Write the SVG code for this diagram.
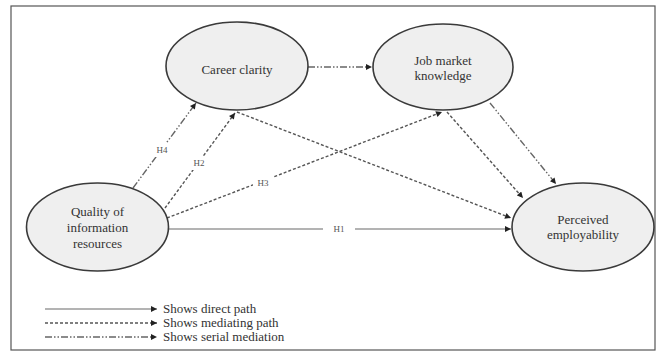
<svg xmlns="http://www.w3.org/2000/svg" width="657" height="352" viewBox="0 0 657 352">
<style>
.node ellipse{fill:#efefef;stroke:#3a3a3a;stroke-width:1.6}
.lbl{font-family:"Liberation Serif","Times New Roman",serif;font-size:13px;fill:#333;text-anchor:middle}
.h{font-family:"Liberation Serif","Times New Roman",serif;font-size:9px;fill:#555;text-anchor:middle}
.hb{fill:#fff;stroke:none}
.leg{font-family:"Liberation Serif","Times New Roman",serif;font-size:13px;fill:#333}
.direct{stroke:#9a9a9a;stroke-width:1.5;fill:none}
.med{stroke:#555;stroke-width:1.4;fill:none;stroke-dasharray:3 2}
.ser{stroke:#666;stroke-width:1.4;fill:none;stroke-dasharray:7 2 1.5 2 1.5 2}
</style>
<defs>
<marker id="ah" viewBox="0 0 10 10" refX="10" refY="5" markerWidth="7" markerHeight="6" markerUnits="userSpaceOnUse" orient="auto">
<path d="M0,0 L10,5 L0,10 z" fill="#222"/>
</marker>
</defs>
<rect x="11" y="6" width="644" height="344" fill="#fff" stroke="#555" stroke-width="1.2"/>
<g id="connectors">
<line class="direct" x1="168" y1="229" x2="323" y2="229"/>
<line class="direct" x1="355" y1="229" x2="511" y2="229" marker-end="url(#ah)"/>
<text class="h" x="339" y="232">H1</text>
<line class="ser" x1="133" y1="188" x2="196" y2="103" marker-end="url(#ah)"/>
<line class="med" x1="165" y1="208" x2="235" y2="113" marker-end="url(#ah)"/>
<line class="med" x1="167" y1="218" x2="442" y2="112" marker-end="url(#ah)"/>
<line class="med" x1="237" y1="112" x2="511" y2="218" marker-end="url(#ah)"/>
<line class="med" x1="447" y1="112" x2="523" y2="198" marker-end="url(#ah)"/>
<line class="ser" x1="490" y1="103" x2="556" y2="184" marker-end="url(#ah)"/>
<line class="ser" x1="308" y1="67" x2="372" y2="67" marker-end="url(#ah)"/>
<rect class="hb" x="154" y="143" width="16" height="14"/>
<text class="h" x="162" y="153">H4</text>
<rect class="hb" x="191" y="156" width="16" height="14"/>
<text class="h" x="199" y="166">H2</text>
<rect class="hb" x="253" y="176" width="20" height="14"/>
<text class="h" x="263" y="186">H3</text>
</g>
<g id="career" class="node">
<ellipse cx="237" cy="66" rx="71" ry="44"/>
<text class="lbl" x="237" y="74">Career clarity</text>
</g>
<g id="job" class="node">
<ellipse cx="443" cy="67" rx="70" ry="43"/>
<text class="lbl" x="443" y="65">Job market</text>
<text class="lbl" x="443" y="80">knowledge</text>
</g>
<g id="quality" class="node">
<ellipse cx="97.5" cy="227" rx="71" ry="44"/>
<text class="lbl" x="97.5" y="216">Quality of</text>
<text class="lbl" x="97.5" y="232">information</text>
<text class="lbl" x="97.5" y="248">resources</text>
</g>
<g id="perceived" class="node">
<ellipse cx="583" cy="227" rx="71" ry="44"/>
<text class="lbl" x="583" y="224">Perceived</text>
<text class="lbl" x="583" y="239">employability</text>
</g>
<g id="legend">
<line class="direct" x1="45" y1="309" x2="157" y2="309" marker-end="url(#ah)"/>
<line class="med" x1="45" y1="323" x2="157" y2="323" marker-end="url(#ah)"/>
<line class="ser" x1="45" y1="337" x2="157" y2="337" marker-end="url(#ah)"/>
<text class="leg" x="163" y="313">Shows direct path</text>
<text class="leg" x="163" y="327">Shows mediating path</text>
<text class="leg" x="163" y="341">Shows serial mediation</text>
</g>
</svg>
